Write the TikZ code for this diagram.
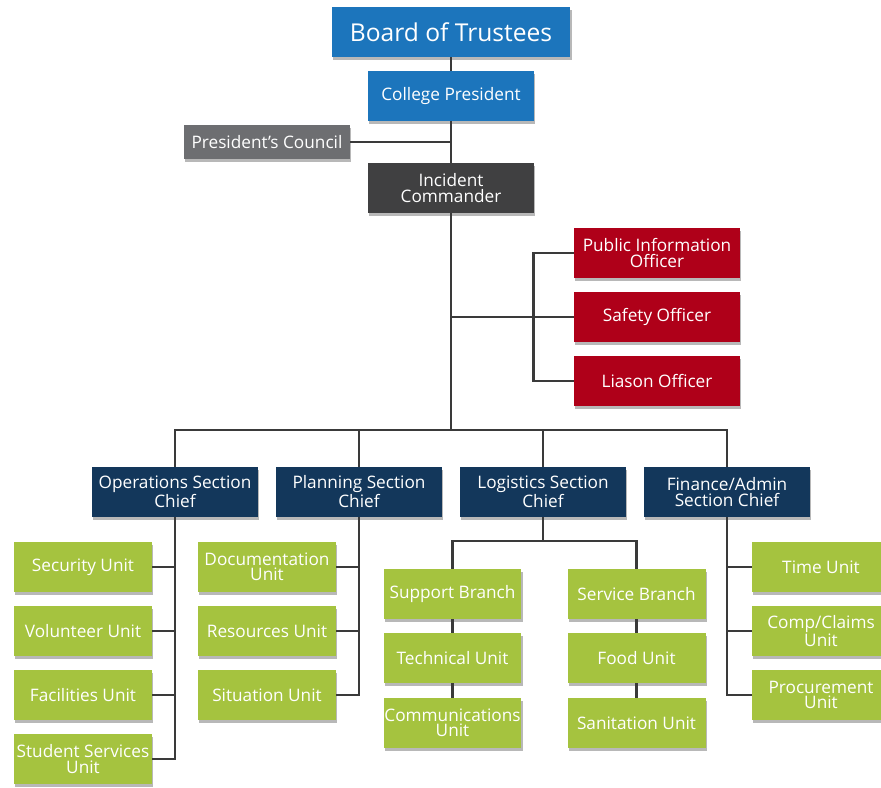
\documentclass[tikz,border=0pt]{standalone}
\usepackage{fontspec}
\setmainfont{Open Sans}
\usetikzlibrary{positioning}
\usetikzlibrary{shadows}
\definecolor{trustblue}{HTML}{1C75BC}
\definecolor{councilgray}{HTML}{6D6E71}
\definecolor{cmdgray}{HTML}{404041}
\definecolor{officerred}{HTML}{AF0019}
\definecolor{chiefnavy}{HTML}{13375B}
\definecolor{unitgreen}{HTML}{A5C33F}
\definecolor{linegray}{HTML}{3A3A3A}
\tikzset{
  box/.style={rectangle,inner sep=0pt,text=white,align=center,
    font=\fontsize{9.8}{8.6}\selectfont,
    drop shadow={shadow xshift=0.6pt,shadow yshift=-1.6pt,opacity=0.28,fill=black}},
  topbox/.style={box,fill=trustblue,minimum width=3.32cm,minimum height=1cm},
  councilbox/.style={box,fill=councilgray,minimum width=3.32cm,minimum height=0.68cm},
  cmdbox/.style={box,fill=cmdgray,minimum width=3.32cm,minimum height=1cm},
  officerbox/.style={box,fill=officerred,minimum width=3.32cm,minimum height=1cm},
  chiefbox/.style={box,fill=chiefnavy,minimum width=3.32cm,minimum height=1cm},
  unitbox/.style={box,fill=unitgreen,minimum width=2.76cm,minimum height=1cm},
  link/.style={draw=linegray,line width=1.6pt}
}
\begin{document}
\begin{tikzpicture}[x=0.02cm,y=-0.02cm]
\useasboundingbox (0,0) rectangle (881,787);
\clip (0,0) rectangle (881,787);

\node[topbox,minimum width=4.78cm,font=\fontsize{14}{14}\selectfont] (bot) at (451,32) {Board of Trustees};
\node[topbox] (pres) at (451,96) {College President};
\node[councilbox] (council) at (267,142) {President’s Council};
\node[cmdbox] (ic) at (451,188) {Incident\\Commander};

\node[officerbox] (pio) at (657,253) {Public Information\\Officer};
\node[officerbox] (safety) at (657,317) {Safety Officer};
\node[officerbox] (liason) at (657,381) {Liason Officer};

\coordinate (bus) at (451,430);
\node[chiefbox] (ops) at (175,492) {Operations Section\\Chief};
\node[chiefbox] (plan) at (359,492) {Planning Section\\Chief};
\node[chiefbox] (logi) at (543,492) {Logistics Section\\Chief};
\node[chiefbox] (fin) at (727,492) {Finance/Admin\\Section Chief};

\node[unitbox] (security) at (83,567) {Security Unit};
\node[unitbox] (volunteer) at (83,631) {Volunteer Unit};
\node[unitbox] (facilities) at (83,695) {Facilities Unit};
\node[unitbox] (student) at (83,759) {Student Services\\Unit};

\node[unitbox] (docu) at (267,567) {Documentation\\Unit};
\node[unitbox] (resources) at (267,631) {Resources Unit};
\node[unitbox] (situation) at (267,695) {Situation Unit};

\coordinate (logbus) at (543,541);
\node[unitbox] (support) at (452.5,594) {Support Branch};
\node[unitbox] (technical) at (452.5,658) {Technical Unit};
\node[unitbox] (comms) at (452.5,723) {Communications\\Unit};
\node[unitbox] (service) at (636.5,594) {Service Branch};
\node[unitbox] (food) at (636.5,658) {Food Unit};
\node[unitbox] (sanitation) at (636.5,723) {Sanitation Unit};

\node[unitbox] (time) at (821,567) {Time Unit};
\node[unitbox] (claims) at (821,631) {Comp/Claims\\Unit};
\node[unitbox] (procure) at (821,695) {Procurement\\Unit};

\draw[link] (bot.south) -- (pres.north);
\draw[link] (pres.south) -- (ic.north);
\draw[link] (council.east) -- (council.east -| pres);
\draw[link] (ic.south) -- (bus);
\draw[link] (safety.west) -- (safety.west -| ic);
\draw[link] (pio.west) -- ++(-40,0) |- (liason.west);

\draw[link] (ops.north) |- (bus) -| (fin.north);
\draw[link] (plan.north) -- (plan.north |- bus);
\draw[link] (logi.north) -- (logi.north |- bus);

\draw[link] (ops.south) |- (student.east);
\draw[link] (security.east) -- (security.east -| ops);
\draw[link] (volunteer.east) -- (volunteer.east -| ops);
\draw[link] (facilities.east) -- (facilities.east -| ops);

\draw[link] (plan.south) |- (situation.east);
\draw[link] (docu.east) -- (docu.east -| plan);
\draw[link] (resources.east) -- (resources.east -| plan);

\draw[link] (logi.south) -- (logbus);
\draw[link] (support.north) |- (logbus) -| (service.north);
\draw[link] (support.south) -- (technical.north);
\draw[link] (technical.south) -- (comms.north);
\draw[link] (service.south) -- (food.north);
\draw[link] (food.south) -- (sanitation.north);

\draw[link] (fin.south) |- (procure.west);
\draw[link] (time.west) -- (time.west -| fin);
\draw[link] (claims.west) -- (claims.west -| fin);
\end{tikzpicture}
\end{document}
